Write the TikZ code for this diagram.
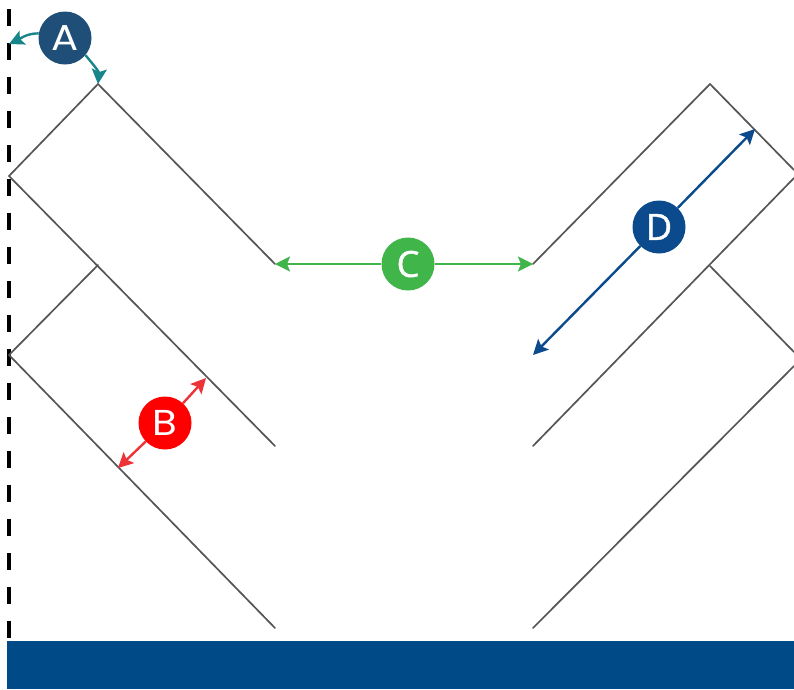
\documentclass[tikz,border=0pt]{standalone}
\usepackage{fontspec}
\setmainfont{Poppins}
\newfontfamily\widefont[FakeStretch=1.12]{Poppins}
\newfontfamily\narrowfont[FakeBold=1.2]{Open Sans}
\usetikzlibrary{arrows.meta}
\definecolor{wallgrey}{HTML}{555555}
\definecolor{basecol}{HTML}{004A87}
\definecolor{acol}{HTML}{1F4E79}
\definecolor{aarrow}{HTML}{17858A}
\definecolor{barrow}{HTML}{EE3338}
\definecolor{ccol}{HTML}{3FB54A}
\definecolor{dcol}{HTML}{0B4A8C}
\tikzset{
  wall/.style={draw=wallgrey,line width=1.7pt,line cap=round,line join=miter},
  badge/.style={circle,minimum size=53pt,inner sep=0pt,text=white,font=\widefont\fontsize{36}{36}\selectfont},
  badgeb/.style={circle,minimum size=53pt,inner sep=0pt,text=white,font=\narrowfont\fontsize{36}{36}\selectfont},
  headed/.style={line width=2.4pt,-{Stealth[length=15pt,width=15pt,inset=3pt]}}
}
\begin{document}
\begin{tikzpicture}[x=1pt,y=-1pt]
\useasboundingbox (0,0) rectangle (794,689);
\fill[white] (0,0) rectangle (794,689);
\node[fill=basecol,draw=none,inner sep=0pt,minimum width=787pt,minimum height=48pt,anchor=north west] (base) at (7,641) {};
\coordinate (dashtop) at (9,9);
\coordinate (dashbot) at (9,640);
\draw[black,line width=3.5pt,dash pattern=on 17pt off 17pt] (dashtop) -- (dashbot);
% left channels
\coordinate (la) at (98,84);
\coordinate (lb) at (9,176);
\coordinate (lc) at (275,264);
\coordinate (ld) at (275,446);
\coordinate (le) at (98,265);
\coordinate (lf) at (9,355);
\coordinate (lg) at (275,628);
\draw[wall] (lc) -- (la) -- (lb) -- (ld);
\draw[wall] (le) -- (lf) -- (lg);
% right channels
\coordinate (ra) at (533,264);
\coordinate (rb) at (710,84);
\coordinate (rc) at (794,170);
\coordinate (rd) at (533,446);
\coordinate (re) at (794,178);
\coordinate (rf) at (710,266);
\coordinate (rg) at (794,352);
\coordinate (rh) at (533,628);
\coordinate (ri) at (794,366);
\draw[wall] (ra) -- (rb) -- (rc);
\draw[wall] (rd) -- (re);
\draw[wall] (rf) -- (rg);
\draw[wall] (rh) -- (ri);
% targets
\coordinate (a1) at (9,44);
\coordinate (a2) at (98,84);
\coordinate (b1) at (206,378);
\coordinate (b2) at (118,468);
\coordinate (c1) at (275,264);
\coordinate (c2) at (533,264);
\coordinate (d1) at (755,129);
\coordinate (d2) at (533,355);
% badges
\node[badge,fill=acol] (A) at (65,38) {A};
\node[badge,fill=red] (B) at (165,423) {B};
\node[badgeb,fill=ccol] (C) at (408,264) {C};
\node[badgeb,fill=dcol] (D) at (659,227) {D};
% connectors
\draw[headed,aarrow] (A.170) to[out=180,in=25] (a1);
\draw[headed,aarrow] (A.-40) to[out=-50,in=85] (a2);
\draw[headed,barrow] (B) -- (b1);
\draw[headed,barrow] (B) -- (b2);
\draw[headed,ccol] (C) -- (c1);
\draw[headed,ccol] (C) -- (c2);
\draw[headed,dcol] (D) -- (d1);
\draw[headed,dcol] (D) -- (d2);
\end{tikzpicture}
\end{document}
